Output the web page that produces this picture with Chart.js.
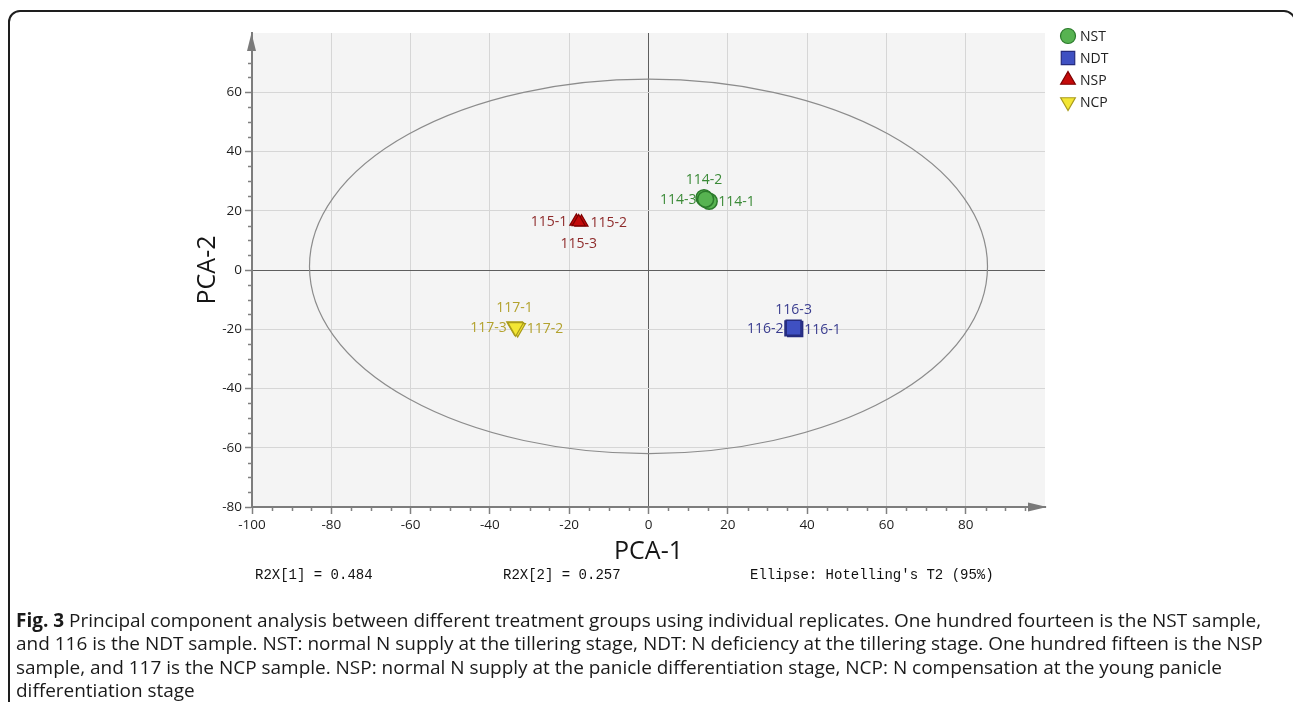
<!DOCTYPE html>
<html>
<head>
<meta charset="utf-8">
<script src="https://cdn.jsdelivr.net/npm/chart.js@4.4.1/dist/chart.umd.min.js"></script>
<style>
  html, body { margin: 0; padding: 0; background: #fff; overflow: hidden; }
  canvas { display: block; }
</style>
</head>
<body>
<canvas id="pca" width="1293" height="702"></canvas>
<script>
// ---- Scores on the first two principal components ----
const groupNames = ['NST', 'NDT', 'NSP', 'NCP'];

const nstLabels = ['114-1', '114-2', '114-3'];
const nstPC1 = [15.3, 14.0, 14.4];
const nstPC2 = [23.2, 24.4, 23.9];

const ndtLabels = ['116-1', '116-2', '116-3'];
const ndtPC1 = [37.0, 36.3, 36.6];
const ndtPC2 = [-19.9, -19.7, -19.5];

const nspLabels = ['115-1', '115-2', '115-3'];
const nspPC1 = [-18.2, -16.9, -17.6];
const nspPC2 = [16.4, 16.1, 16.2];

const ncpLabels = ['117-1', '117-2', '117-3'];
const ncpPC1 = [-33.8, -33.0, -33.5];
const ncpPC2 = [-19.0, -19.6, -19.3];

// Axis ticks
const xTickValues = [-100, -80, -60, -40, -20, 0, 20, 40, 60, 80];
const yTickValues = [-80, -60, -40, -20, 0, 20, 40, 60];

// Hotelling's T2 (95%) ellipse, in score units
const ellipseCenterPC1 = 0;
const ellipseCenterPC2 = 1.2;
const ellipseSemiPC1 = 85.5;
const ellipseSemiPC2 = 63.2;

// Model summary and caption
const summaryTexts = ['R2X[1] = 0.484', 'R2X[2] = 0.257', "Ellipse: Hotelling's T2 (95%)"];
const captionBold = 'Fig. 3';
const captionLines = [
  ' Principal component analysis between different treatment groups using individual replicates. One hundred fourteen is the NST sample,',
  'and 116 is the NDT sample. NST: normal N supply at the tillering stage, NDT: N deficiency at the tillering stage. One hundred fifteen is the NSP',
  'sample, and 117 is the NCP sample. NSP: normal N supply at the panicle differentiation stage, NCP: N compensation at the young panicle',
  'differentiation stage'
];

// ---- helpers ----
const toPoints = (xs, ys) => xs.map((x, i) => ({ x: x, y: ys[i] }));

// where each sample label sits relative to its marker
const labelPlacement = {
  '114-1': 'right', '114-2': 'top', '114-3': 'left',
  '116-1': 'right', '116-2': 'left', '116-3': 'top',
  '115-1': 'left', '115-2': 'right', '115-3': 'bottom',
  '117-1': 'top', '117-2': 'right', '117-3': 'left'
};

const FONT = "'Open Sans', 'Noto Sans', sans-serif";
const MONO = "'Liberation Mono', 'DejaVu Sans Mono', monospace";

const datasets = [
  { label: groupNames[0], data: toPoints(nstPC1, nstPC2), sampleLabels: nstLabels,
    pointStyle: 'circle', pointRadius: 8, pointRotation: 0,
    backgroundColor: '#57b351', borderColor: '#2b7a2b', pointBorderWidth: 1.5, textColor: '#3b8a37' },
  { label: groupNames[1], data: toPoints(ndtPC1, ndtPC2), sampleLabels: ndtLabels,
    pointStyle: 'rect', pointRadius: 10.5, pointRotation: 0,
    backgroundColor: '#3f50c2', borderColor: '#252b7e', pointBorderWidth: 1.5, textColor: '#3a3d8f' },
  { label: groupNames[2], data: toPoints(nspPC1, nspPC2), sampleLabels: nspLabels,
    pointStyle: 'triangle', pointRadius: 7.5, pointRotation: 0,
    backgroundColor: '#c40a0a', borderColor: '#7c0000', pointBorderWidth: 1.2, textColor: '#8e2b2b' },
  { label: groupNames[3], data: toPoints(ncpPC1, ncpPC2), sampleLabels: ncpLabels,
    pointStyle: 'triangle', pointRadius: 9, pointRotation: 180,
    backgroundColor: '#f3e634', borderColor: '#a99b1c', pointBorderWidth: 1.2, textColor: '#b3a22e' }
];

// Plot panel background, ellipse, minor ticks, arrows and free text
const decorations = {
  id: 'decorations',
  beforeDraw(chart) {
    const { ctx, chartArea: a } = chart;
    ctx.save();
    ctx.fillStyle = '#ffffff';
    ctx.fillRect(0, 0, chart.width, chart.height);
    ctx.fillStyle = '#f4f4f4';
    ctx.fillRect(a.left, a.top, a.right - a.left, a.bottom - a.top);
    ctx.restore();
  },
  beforeDatasetsDraw(chart) {
    const { ctx } = chart;
    const xs = chart.scales.x, ys = chart.scales.y;
    const cx = xs.getPixelForValue(ellipseCenterPC1);
    const cy = ys.getPixelForValue(ellipseCenterPC2);
    const rx = xs.getPixelForValue(ellipseCenterPC1 + ellipseSemiPC1) - cx;
    const ry = cy - ys.getPixelForValue(ellipseCenterPC2 + ellipseSemiPC2);
    ctx.save();
    ctx.beginPath();
    ctx.ellipse(cx, cy, rx, ry, 0, 0, Math.PI * 2);
    ctx.strokeStyle = '#8c8c8c';
    ctx.lineWidth = 1.2;
    ctx.stroke();
    ctx.restore();
  },
  afterDatasetsDraw(chart) {
    const { ctx } = chart;
    ctx.save();
    ctx.font = '14px ' + FONT;
    chart.data.datasets.forEach((ds, di) => {
      const meta = chart.getDatasetMeta(di);
      ctx.fillStyle = ds.textColor;
      meta.data.forEach((pt, i) => {
        const name = ds.sampleLabels[i];
        const where = labelPlacement[name];
        const gap = 9;
        ctx.textBaseline = 'middle';
        if (where === 'left') {
          ctx.textAlign = 'right';
          ctx.fillText(name, pt.x - gap, pt.y + 1);
        } else if (where === 'right') {
          ctx.textAlign = 'left';
          ctx.fillText(name, pt.x + gap, pt.y + 1);
        } else if (where === 'top') {
          ctx.textAlign = 'center';
          ctx.fillText(name, pt.x, pt.y - 18);
        } else {
          ctx.textAlign = 'center';
          ctx.fillText(name, pt.x, pt.y + 22);
        }
      });
    });
    ctx.restore();
  },
  afterDraw(chart) {
    const { ctx, chartArea: a } = chart;
    const xs = chart.scales.x, ys = chart.scales.y;
    ctx.save();

    // minor ticks every 5 units
    ctx.strokeStyle = '#808080';
    ctx.lineWidth = 1.5;
    ctx.beginPath();
    for (let v = xs.min; v < xs.max - 4; v += 5) {
      if (v % 20 === 0) continue;
      const px = Math.round(xs.getPixelForValue(v)) + 0.5;
      ctx.moveTo(px, a.bottom); ctx.lineTo(px, a.bottom + 4);
    }
    for (let v = ys.min; v < ys.max - 9; v += 5) {
      if (v % 20 === 0) continue;
      const py = Math.round(ys.getPixelForValue(v)) + 0.5;
      ctx.moveTo(a.left, py); ctx.lineTo(a.left - 4, py);
    }
    ctx.stroke();

    // axis arrows
    ctx.fillStyle = '#7a7a7a';
    ctx.beginPath();
    ctx.moveTo(a.left - 0.5, a.top);
    ctx.lineTo(a.left - 5, a.top + 18);
    ctx.lineTo(a.left + 4, a.top + 18);
    ctx.closePath();
    ctx.fill();
    ctx.beginPath();
    ctx.moveTo(a.right + 2, a.bottom);
    ctx.lineTo(a.right - 17, a.bottom - 4.5);
    ctx.lineTo(a.right - 17, a.bottom + 4.5);
    ctx.closePath();
    ctx.fill();

    // axis titles
    ctx.fillStyle = '#151515';
    ctx.font = '25px ' + FONT;
    ctx.textAlign = 'center';
    ctx.textBaseline = 'middle';
    ctx.fillText('PCA-1', xs.getPixelForValue(0), 552);
    ctx.save();
    ctx.translate(208, ys.getPixelForValue(0));
    ctx.rotate(-Math.PI / 2);
    ctx.fillText('PCA-2', 0, 0);
    ctx.restore();

    // legend
    ctx.font = '14px ' + FONT;
    ctx.textAlign = 'left';
    chart.data.datasets.forEach((ds, di) => {
      const y = 36 + di * 22;
      const r = ds.pointStyle === 'rect' ? 9.5 : (ds.pointStyle === 'circle' ? 7.5 : 8.5);
      ctx.fillStyle = ds.backgroundColor;
      ctx.strokeStyle = ds.borderColor;
      ctx.lineWidth = 1.2;
      Chart.helpers.drawPoint(ctx, { pointStyle: ds.pointStyle, rotation: ds.pointRotation, radius: r, borderWidth: 1.2 }, 1068, y);
      ctx.fillStyle = '#222';
      ctx.fillText(ds.label, 1080, y + 1);
    });

    // model summary line
    ctx.font = '14px ' + MONO;
    ctx.fillStyle = '#111';
    ctx.textAlign = 'left';
    ctx.fillText(summaryTexts[0], 255, 575);
    ctx.fillText(summaryTexts[1], 503, 575);
    ctx.fillText(summaryTexts[2], 750, 575);

    // figure frame (left edge and top, rounding off past the right margin)
    ctx.strokeStyle = '#1e1e1e';
    ctx.lineWidth = 2;
    ctx.beginPath();
    ctx.moveTo(9, 702);
    ctx.lineTo(9, 22);
    ctx.arcTo(9, 11, 20, 11, 11);
    ctx.lineTo(1284, 11);
    ctx.arcTo(1295, 11, 1295, 22, 11);
    ctx.lineTo(1295, 702);
    ctx.stroke();

    // caption, sized so the first line spans the text column
    ctx.fillStyle = '#1a1a1a';
    ctx.textBaseline = 'alphabetic';
    const lineY = [627, 650, 674, 697];
    const columnWidth = 1246;
    ctx.font = 'bold 16px ' + FONT;
    const bw16 = ctx.measureText(captionBold).width;
    ctx.font = '16px ' + FONT;
    const rw16 = ctx.measureText(captionLines[0]).width;
    const size = 16 * columnWidth / (bw16 + rw16);
    ctx.font = 'bold ' + size + 'px ' + FONT;
    const bw = ctx.measureText(captionBold).width;
    ctx.fillText(captionBold, 16, lineY[0]);
    ctx.font = size + 'px ' + FONT;
    ctx.fillText(captionLines[0], 16 + bw, lineY[0]);
    for (let i = 1; i < captionLines.length; i++) {
      ctx.fillText(captionLines[i], 16, lineY[i]);
    }
    ctx.restore();
  }
};

new Chart(document.getElementById('pca'), {
  type: 'scatter',
  data: { datasets: datasets },
  options: {
    responsive: false,
    animation: false,
    devicePixelRatio: 1,
    layout: { padding: { left: 0, top: 33, right: 248, bottom: 0 } },
    plugins: { legend: { display: false }, tooltip: { enabled: false } },
    elements: { point: { hoverRadius: 0 } },
    scales: {
      x: {
        type: 'linear', min: -100, max: 100,
        afterFit(s) { s.height = 702 - 507; },
        afterBuildTicks(s) { s.ticks = xTickValues.concat([100]).map(v => ({ value: v })); },
        border: { display: true, color: '#7d7d7d', width: 2 },
        grid: {
          drawTicks: true, tickLength: 7, tickWidth: 1.5,
          tickColor: c => (c.tick && c.tick.value === 100) ? 'rgba(0,0,0,0)' : '#808080',
          color: c => {
            const v = c.tick && c.tick.value;
            if (v === 0) return '#5e5e5e';
            if (v === -100 || v === 100) return 'rgba(0,0,0,0)';
            return '#d6d6d6';
          },
          lineWidth: 1
        },
        ticks: {
          color: '#1e1e1e', font: { family: FONT, size: 13.5 }, padding: 3,
          maxRotation: 0, autoSkip: false,
          callback: v => (xTickValues.includes(v) ? String(v) : '')
        }
      },
      y: {
        type: 'linear', min: -80, max: 80,
        afterFit(s) { s.width = 252; },
        afterBuildTicks(s) { s.ticks = yTickValues.concat([80]).map(v => ({ value: v })); },
        border: { display: true, color: '#7d7d7d', width: 2 },
        grid: {
          drawTicks: true, tickLength: 7, tickWidth: 1.5,
          tickColor: c => (c.tick && c.tick.value === 80) ? 'rgba(0,0,0,0)' : '#808080',
          color: c => {
            const v = c.tick && c.tick.value;
            if (v === 0) return '#5e5e5e';
            if (v === -80 || v === 80) return 'rgba(0,0,0,0)';
            return '#d6d6d6';
          },
          lineWidth: 1
        },
        ticks: {
          color: '#1e1e1e', font: { family: FONT, size: 13.5 }, padding: 3,
          autoSkip: false,
          callback: v => (yTickValues.includes(v) ? String(v) : '')
        }
      }
    }
  },
  plugins: [decorations]
});
</script>
</body>
</html>
